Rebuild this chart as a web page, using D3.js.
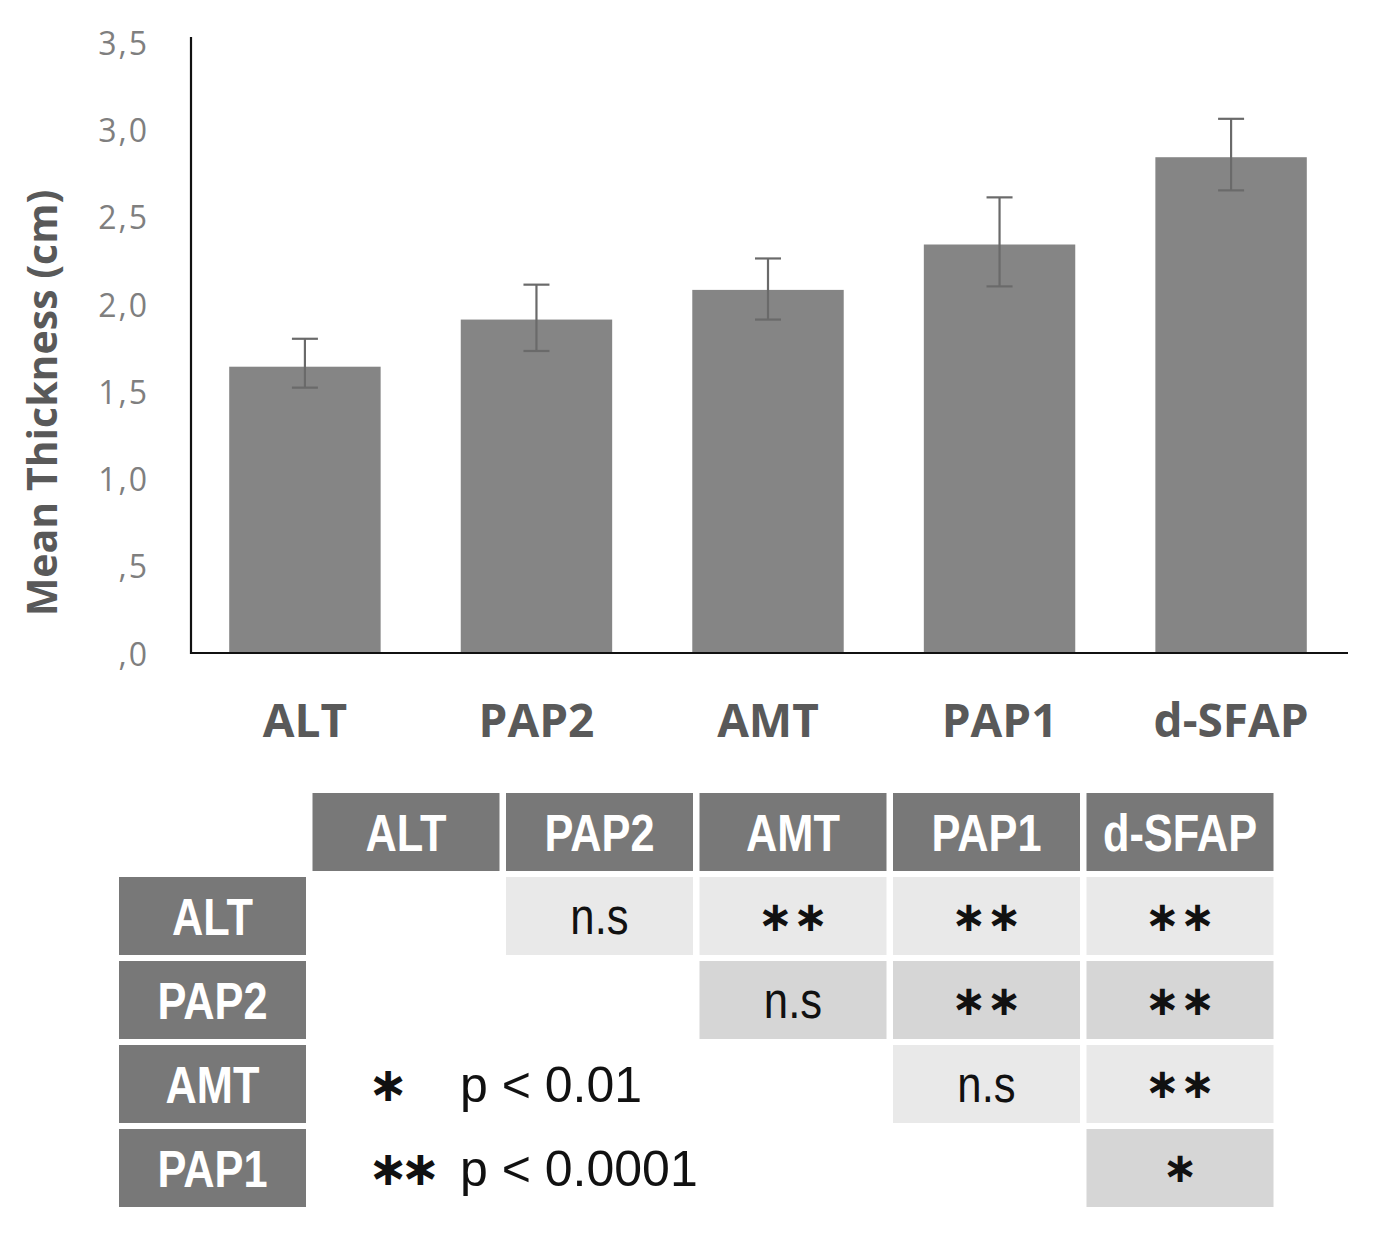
<!DOCTYPE html>
<html>
<head>
<meta charset="utf-8">
<script src="https://cdn.jsdelivr.net/npm/d3@7"></script>
<style>
  html, body { margin: 0; padding: 0; background: #fff; }
  svg { display: block; }
</style>
</head>
<body>
<svg id="chart" width="1381" height="1238"></svg>
<script>
// Chart data
const categories = ["ALT", "PAP2", "AMT", "PAP1", "d-SFAP"];
const means = [1.64, 1.91, 2.08, 2.34, 2.84];
const errUp = [0.16, 0.20, 0.18, 0.27, 0.22];
const errDown = [0.12, 0.18, 0.17, 0.24, 0.19];
const yTicks = [0, 0.5, 1.0, 1.5, 2.0, 2.5, 3.0, 3.5];
const yTickLabels = [",0", ",5", "1,0", "1,5", "2,0", "2,5", "3,0", "3,5"];
const yTitle = "Mean Thickness (cm)";

// Significance table data
const tableCols = ["ALT", "PAP2", "AMT", "PAP1", "d-SFAP"];
const tableRows = ["ALT", "PAP2", "AMT", "PAP1"];
const tableCells = [
  ["", "n.s", "**", "**", "**"],
  ["", "", "n.s", "**", "**"],
  ["", "", "", "n.s", "**"],
  ["", "", "", "", "*"]
];
const legendMarks = ["*", "**"];
const legendLabels = ["p < 0.01", "p < 0.0001"];

const svg = d3.select("#chart");

// Scales
const x = d3.scaleBand()
  .domain(categories)
  .range([191, 1345])
  .paddingInner(0.346)
  .paddingOuter(0.165);

const y = d3.scaleLinear()
  .domain([0, 3.5])
  .range([653, 42]);

// Y axis labels (no ticks, Excel style)
const yAxis = d3.axisLeft(y)
  .tickValues(yTicks)
  .tickSize(0)
  .tickPadding(42)
  .tickFormat((d, i) => yTickLabels[i]);

const yG = svg.append("g")
  .attr("transform", "translate(191,0)")
  .call(yAxis);
yG.select(".domain").remove();
yG.selectAll("text")
  .attr("font-family", "Open Sans")
  .attr("font-size", 32)
  .attr("letter-spacing", "2px")
  .attr("fill", "#7f7f7f")
  .attr("dy", "0.38em");

// bars
svg.append("g").selectAll("rect.bar")
  .data(categories)
  .join("rect")
    .attr("class", "bar")
    .attr("x", d => x(d))
    .attr("width", x.bandwidth())
    .attr("y", (d, i) => y(means[i]))
    .attr("height", (d, i) => y(0) - y(means[i]))
    .attr("fill", "#858585");

// error bars
const errG = svg.append("g")
  .attr("stroke", "#6a6a6a")
  .attr("stroke-width", 2.2);
categories.forEach((c, i) => {
  const cx = x(c) + x.bandwidth() / 2;
  const hi = y(means[i] + errUp[i]);
  const lo = y(means[i] - errDown[i]);
  errG.append("line").attr("x1", cx).attr("x2", cx).attr("y1", hi).attr("y2", lo);
  errG.append("line").attr("x1", cx - 13).attr("x2", cx + 13).attr("y1", hi).attr("y2", hi);
  errG.append("line").attr("x1", cx - 13).attr("x2", cx + 13).attr("y1", lo).attr("y2", lo);
});

// axis lines
svg.append("line")
  .attr("x1", 191).attr("x2", 191)
  .attr("y1", y(3.5) - 5).attr("y2", y(0) + 1)
  .attr("stroke", "#111").attr("stroke-width", 2.2);
svg.append("line")
  .attr("x1", 190).attr("x2", 1348)
  .attr("y1", y(0)).attr("y2", y(0))
  .attr("stroke", "#111").attr("stroke-width", 2.2);

// category labels
svg.append("g").selectAll("text.cat")
  .data(categories)
  .join("text")
    .attr("class", "cat")
    .attr("x", d => x(d) + x.bandwidth() / 2)
    .attr("y", 737)
    .attr("text-anchor", "middle")
    .attr("font-family", "Open Sans")
    .attr("font-weight", 700)
    .attr("font-size", 46)
    .attr("fill", "#595959")
    .text(d => d);

// y title
svg.append("text")
  .attr("transform", "translate(57,403) rotate(-90)")
  .attr("text-anchor", "middle")
  .attr("font-family", "Open Sans")
  .attr("font-weight", 700)
  .attr("font-size", 41)
  .attr("fill", "#595959")
  .text(yTitle);

// TABLE
const tx = d3.scaleBand()
  .domain(["_"].concat(tableCols))
  .range([119, 1273.5])
  .paddingInner(0.0336);
const ty = d3.scaleBand()
  .domain(["_"].concat(tableRows.map((r, i) => "r" + i)))
  .range([793, 1207])
  .paddingInner(0.0714);

const tableG = svg.append("g");
const headFill = "#787878";
const rowFill = ["#e9e9e9", "#d6d6d6", "#e9e9e9", "#d6d6d6"];

function narrowText(g, cx, cy, str, opts) {
  g.append("g")
    .attr("transform", `translate(${cx},${cy + opts.dy}) scale(${opts.sx},1)`)
    .append("text")
      .attr("text-anchor", "middle")
      .attr("font-family", opts.family || "Liberation Sans, Arial, sans-serif")
      .attr("font-weight", opts.weight || 400)
      .attr("font-size", opts.size)
      .attr("fill", opts.fill)
      .text(str);
}

// column headers
tableCols.forEach(c => {
  tableG.append("rect")
    .attr("x", tx(c)).attr("y", ty("_"))
    .attr("width", tx.bandwidth()).attr("height", ty.bandwidth())
    .attr("fill", headFill);
  narrowText(tableG, tx(c) + tx.bandwidth() / 2, ty("_") + ty.bandwidth() / 2, c,
    { dy: 19, sx: 0.85, size: 51, weight: 700, fill: "#fff" });
});

// row headers + cells
tableRows.forEach((r, i) => {
  const ry = ty("r" + i);
  tableG.append("rect")
    .attr("x", tx("_")).attr("y", ry)
    .attr("width", tx.bandwidth()).attr("height", ty.bandwidth())
    .attr("fill", headFill);
  narrowText(tableG, tx("_") + tx.bandwidth() / 2, ry + ty.bandwidth() / 2, r,
    { dy: 19, sx: 0.85, size: 51, weight: 700, fill: "#fff" });

  tableCols.forEach((c, j) => {
    const v = tableCells[i][j];
    if (!v) return;
    const cx = tx(c) + tx.bandwidth() / 2;
    const cy = ry + ty.bandwidth() / 2;
    tableG.append("rect")
      .attr("x", tx(c)).attr("y", ry)
      .attr("width", tx.bandwidth()).attr("height", ty.bandwidth())
      .attr("fill", rowFill[i]);
    if (v === "n.s") {
      narrowText(tableG, cx, cy, v, { dy: 18, sx: 0.84, size: 52, fill: "#111" });
    } else {
      tableG.append("text")
        .attr("x", cx).attr("y", cy)
        .attr("text-anchor", "middle")
        .attr("dominant-baseline", "central")
        .attr("font-family", "DejaVu Sans")
        .attr("font-weight", 700)
        .attr("font-size", 42)
        .attr("fill", "#111")
        .text(v.replace(/\*/g, "\u2217"));
    }
  });
});

// legend
legendLabels.forEach((lab, i) => {
  const ry = ty("r" + (i + 2));
  const cy = ry + ty.bandwidth() / 2;
  tableG.append("text")
    .attr("x", 368).attr("y", cy)
    .attr("dominant-baseline", "central")
    .attr("font-family", "DejaVu Sans")
    .attr("font-weight", 700)
    .attr("font-size", 48)
    .attr("letter-spacing", "-8px")
    .attr("fill", "#111")
    .text(legendMarks[i].replace(/\*/g, "\u2217"));
  tableG.append("text")
    .attr("x", 460).attr("y", cy + 18)
    .attr("font-family", "Liberation Sans, Arial, sans-serif")
    .attr("font-size", 50)
    .attr("fill", "#111")
    .text(lab);
});
</script>
</body>
</html>
